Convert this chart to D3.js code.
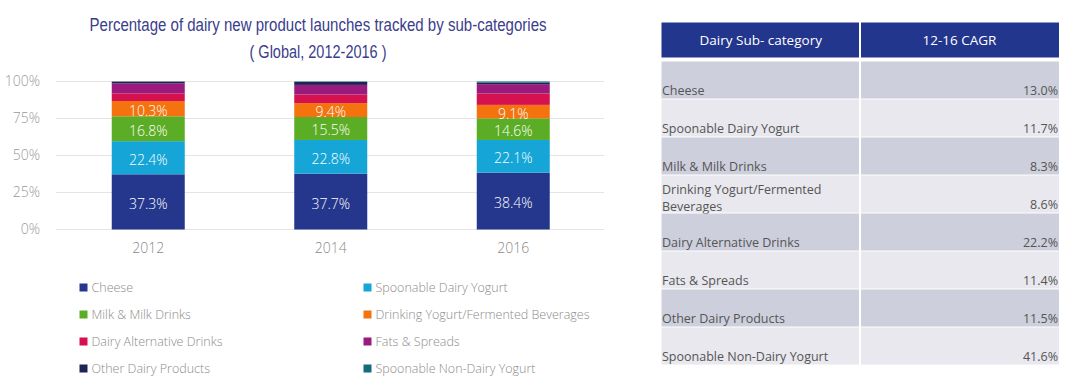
<!DOCTYPE html>
<html>
<head>
<meta charset="utf-8">
<script src="https://cdn.jsdelivr.net/npm/d3@7"></script>
<style>
  body { margin: 0; background: #fff; }
  svg { display: block; }
</style>
</head>
<body>
<div id="chart"></div>
<script>
// Chart data
const years = ["2012", "2014", "2016"];
const categories = [
    "Cheese", "Spoonable Dairy Yogurt", "Milk & Milk Drinks",
    "Drinking Yogurt/Fermented Beverages", "Dairy Alternative Drinks",
    "Fats & Spreads", "Other Dairy Products", "Spoonable Non-Dairy Yogurt"
];
const cheese = [37.3, 37.7, 38.4];
const spoonableYogurt = [22.4, 22.8, 22.1];
const milkDrinks = [16.8, 15.5, 14.6];
const drinkingYogurt = [10.3, 9.4, 9.1];
const dairyAlternative = [5.2, 5.8, 7.7];
const fatsSpreads = [6.8, 6.5, 6.3];
const otherDairy = [1.1, 2.0, 1.0];
const spoonableNonDairy = [0.1, 0.3, 0.8];
const yTicks = [0, 25, 50, 75, 100];

// Table data
const tableHeader = ["Dairy Sub- category", "12-16 CAGR"];
const tableRows = [
    "Cheese", "Spoonable Dairy Yogurt", "Milk & Milk Drinks",
    "Drinking Yogurt/Fermented Beverages", "Dairy Alternative Drinks",
    "Fats & Spreads", "Other Dairy Products", "Spoonable Non-Dairy Yogurt"
];
const cagr = ["13.0%", "11.7%", "8.3%", "8.6%", "22.2%", "11.4%", "11.5%", "41.6%"];

const colors = ["#24378c", "#15a6d7", "#5bad25", "#f4730f", "#d6114f", "#9a1b7d", "#1b2452", "#16697f"];
const seriesValues = [cheese, spoonableYogurt, milkDrinks, drinkingYogurt,
    dairyAlternative, fatsSpreads, otherDairy, spoonableNonDairy];
const labelled = 4; // first four series carry value labels

const W = 1080, H = 392;
const font = "'Open Sans', 'Segoe UI', sans-serif";

const svg = d3.select("#chart").append("svg")
    .attr("width", W)
    .attr("height", H);

// Build rows for stacking
const rows = years.map((y, i) => {
    const r = {year: y};
    categories.forEach((c, k) => r[c] = seriesValues[k][i]);
    return r;
});
const stacked = d3.stack().keys(categories)(rows);

// Scales
const x = d3.scaleBand().domain(years).range([57, 604.5]).paddingInner(0.6).paddingOuter(0.3);
const y = d3.scaleLinear().domain([0, 100]).range([229.5, 81.5]);

// Title (condensed look via textLength)
svg.append("text")
    .attr("x", 318).attr("y", 31)
    .attr("text-anchor", "middle")
    .attr("textLength", 457)
    .attr("lengthAdjust", "spacingAndGlyphs")
    .style("font-family", "'Liberation Sans', Arial, sans-serif")
    .style("font-size", "17.5px")
    .style("fill", "#3a3d8c")
    .text("Percentage of dairy new product launches tracked by sub-categories");
svg.append("text")
    .attr("x", 318).attr("y", 57.5)
    .attr("text-anchor", "middle")
    .attr("textLength", 137)
    .attr("lengthAdjust", "spacingAndGlyphs")
    .style("font-family", "'Liberation Sans', Arial, sans-serif")
    .style("font-size", "17.5px")
    .style("fill", "#3a3d8c")
    .text("( Global, 2012-2016 )");

// Gridlines
svg.append("g")
    .selectAll("line")
    .data(yTicks)
    .join("line")
    .attr("x1", 56).attr("x2", 604)
    .attr("y1", d => y(d)).attr("y2", d => y(d))
    .style("stroke", "#e4e4e4")
    .style("stroke-width", 1);

// Y axis
const yAxis = svg.append("g")
    .attr("transform", "translate(48,0)")
    .call(d3.axisLeft(y).tickValues(yTicks).tickFormat(d => d + "%").tickSize(0).tickPadding(8));
yAxis.select(".domain").remove();
yAxis.selectAll("text")
    .style("font-family", font)
    .style("font-size", "14px")
    .style("font-weight", 300)
    .style("fill", "#9a9a9a");

// X axis
const xAxis = svg.append("g")
    .attr("transform", "translate(0,243)")
    .call(d3.axisBottom(x).tickSize(0).tickPadding(0));
xAxis.select(".domain").remove();
xAxis.selectAll("text")
    .style("font-family", font)
    .style("font-size", "14px")
    .style("font-weight", 300)
    .style("fill", "#8a8a8a");

// Bars
const layer = svg.append("g")
    .selectAll("g")
    .data(stacked)
    .join("g")
    .style("fill", (d, i) => colors[i]);

layer.selectAll("rect")
    .data(d => d)
    .join("rect")
    .attr("x", d => x(d.data.year))
    .attr("width", x.bandwidth())
    .attr("y", d => y(d[1]))
    .attr("height", d => y(d[0]) - y(d[1]));

// Value labels
svg.append("g")
    .selectAll("g")
    .data(stacked.slice(0, labelled))
    .join("g")
    .selectAll("text")
    .data(d => d.map(v => ({v: v, key: d.key})))
    .join("text")
    .attr("x", d => x(d.v.data.year) + x.bandwidth() / 2)
    .attr("y", d => (y(d.v[0]) + y(d.v[1])) / 2 + 1.5)
    .attr("text-anchor", "middle")
    .attr("dominant-baseline", "central")
    .style("font-family", font)
    .style("font-size", "14px")
    .style("font-weight", 300)
    .style("fill", "#ffffff")
    .text(d => d.v.data[d.key].toFixed(1) + "%");

// Legend
const legend = svg.append("g")
    .selectAll("g")
    .data(categories)
    .join("g")
    .attr("transform", (d, i) => `translate(${i % 2 === 0 ? 79.5 : 363.5},${287.5 + Math.floor(i / 2) * 27})`);
legend.append("rect")
    .attr("x", 0).attr("y", -4)
    .attr("width", 8).attr("height", 8)
    .style("fill", (d, i) => colors[i]);
legend.append("text")
    .attr("x", 12).attr("y", 0)
    .attr("dominant-baseline", "central")
    .style("font-family", font)
    .style("font-size", "12.5px")
    .style("font-weight", 300)
    .style("fill", "#8c8c8c")
    .text(d => d);

// Table
const tx0 = 661.5, tx1 = 860, tx2 = 1059;
const rowTop = 61.5, rowH = 38;

svg.append("rect")
    .attr("x", tx0).attr("y", 22.5)
    .attr("width", tx2 - tx0).attr("height", 35)
    .style("fill", "#23368e");

svg.append("g")
    .selectAll("text")
    .data(tableHeader)
    .join("text")
    .attr("x", (d, i) => i === 0 ? (tx0 + tx1) / 2 : (tx1 + tx2) / 2)
    .attr("y", 40)
    .attr("text-anchor", "middle")
    .attr("dominant-baseline", "central")
    .style("font-family", font)
    .style("font-size", "13.5px")
    .style("fill", "#ffffff")
    .text(d => d);

const trow = svg.append("g")
    .selectAll("g")
    .data(tableRows)
    .join("g")
    .attr("transform", (d, i) => `translate(0,${rowTop + i * rowH})`);

trow.append("rect")
    .attr("x", tx0).attr("y", 0)
    .attr("width", tx2 - tx0).attr("height", rowH - 1)
    .style("fill", (d, i) => i % 2 === 0 ? "#cdcfdc" : "#e8e8ee");

trow.append("text")
    .attr("x", tx0 + 0.5)
    .style("font-family", font)
    .style("font-size", "12.5px")
    .style("fill", "#555")
    .each(function(d) {
        const t = d3.select(this);
        const parts = d === "Drinking Yogurt/Fermented Beverages"
            ? ["Drinking Yogurt/Fermented", "Beverages"] : [d];
        parts.forEach((p, k) => {
            t.append("tspan")
                .attr("x", tx0 + 0.5)
                .attr("y", parts.length === 1 ? 33 : 18 + k * 17)
                .text(p);
        });
    });

trow.append("text")
    .attr("x", tx2 - 1)
    .attr("y", 33)
    .attr("text-anchor", "end")
    .style("font-family", font)
    .style("font-size", "12.5px")
    .style("fill", "#555")
    .text((d, i) => cagr[i]);

// Column divider
svg.append("line")
    .attr("x1", tx1).attr("x2", tx1)
    .attr("y1", 22).attr("y2", rowTop + tableRows.length * rowH)
    .style("stroke", "#ffffff")
    .style("stroke-width", 2);
</script>
</body>
</html>
